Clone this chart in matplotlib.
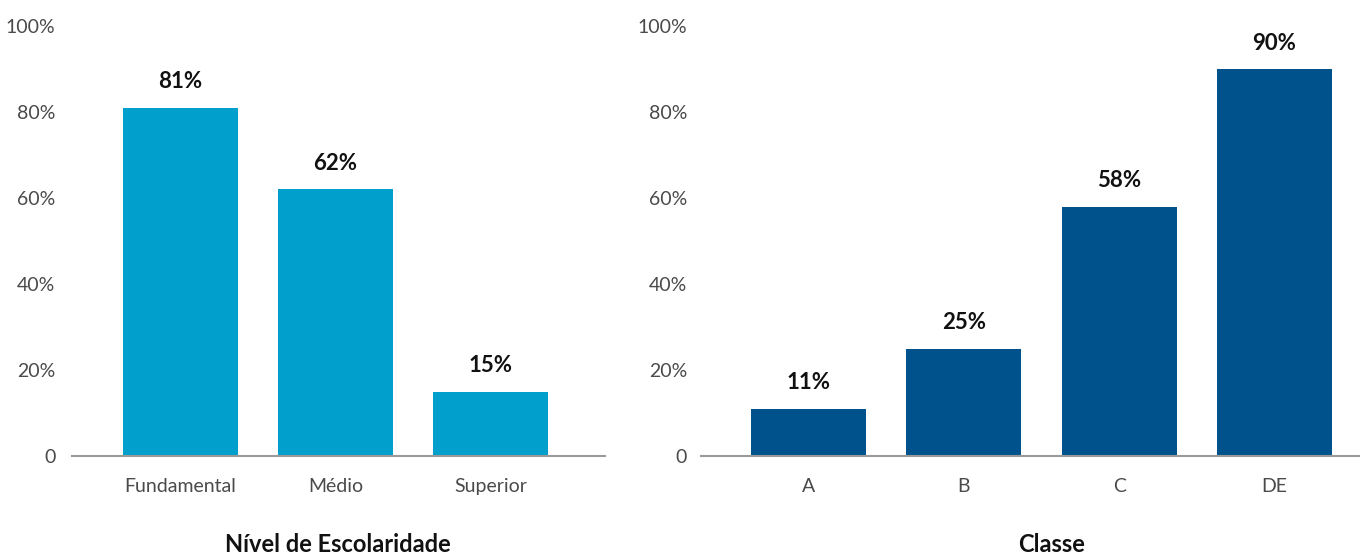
import matplotlib
matplotlib.use("Agg")
import matplotlib.pyplot as plt

plt.rcParams['font.family'] = ['Lato', 'DejaVu Sans']

# escolaridade
esc_labels = ["Fundamental", "Médio", "Superior"]
esc_values = [81, 62, 15]

# classe social
classe_labels = ["A", "B", "C", "DE"]
classe_values = [11, 25, 58, 90]

y_ticks = [0, 20, 40, 60, 80, 100]
y_tick_labels = ["0", "20%", "40%", "60%", "80%", "100%"]

fig = plt.figure(figsize=(13.6, 5.55), dpi=100)
ax1 = fig.add_axes([72/1360, 99/555, 533/1360, 430/555])
ax2 = fig.add_axes([701/1360, 99/555, 659/1360, 430/555])


def draw_bars(ax, labels, values, color, xlim, pad):
    x = list(range(len(labels)))
    bars = ax.bar(x, values, width=0.742, color=color, zorder=2)
    for b, v in zip(bars, values):
        ax.annotate(f"{v}%", (b.get_x() + b.get_width()/2, v),
                    xytext=(0, 11), textcoords="offset points",
                    ha="center", va="bottom", fontsize=16, fontweight="bold",
                    color="#111111")
    ax.set_xlim(*xlim)
    ax.set_ylim(0, 100)
    ax.set_xticks(x)
    ax.set_xticklabels(labels)
    ax.set_yticks(y_ticks)
    ax.set_yticklabels(y_tick_labels)
    for s in ["top", "right", "left"]:
        ax.spines[s].set_visible(False)
    ax.spines["bottom"].set_color("#9a9a9a")
    ax.spines["bottom"].set_linewidth(1.5)
    ax.tick_params(axis="both", length=0, labelsize=14, labelcolor="#4a4a4a")
    ax.tick_params(axis="y", pad=pad)
    ax.tick_params(axis="x", pad=16)


draw_bars(ax1, esc_labels, esc_values, "#009fcc", (-0.70, 2.739), 12)
draw_bars(ax2, classe_labels, classe_values, "#00528c", (-0.692, 3.55), 10)

fig.text(338/1360, 1 - 545/555, "Nível de Escolaridade", ha="center", va="center",
         fontsize=17, fontweight="bold", color="#111111")
fig.text(1052/1360, 1 - 545/555, "Classe", ha="center", va="center",
         fontsize=17, fontweight="bold", color="#111111")

fig.savefig("out.png", dpi=100)
